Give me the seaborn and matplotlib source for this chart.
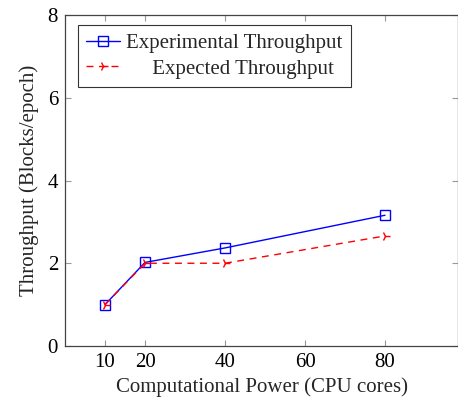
import matplotlib
matplotlib.use("Agg")
import matplotlib.pyplot as plt
import seaborn as sns
import pandas as pd

cores = [10, 20, 40, 80]
experimental = [1.0, 2.02, 2.37, 3.16]
expected = [1.0, 2.0, 2.0, 2.66]
xticks = [10, 20, 40, 60, 80]
yticks = [0, 2, 4, 6, 8]

sns.set_theme(style="ticks")
plt.rcParams['font.family'] = ['Liberation Serif', 'DejaVu Serif']

fig = plt.figure(figsize=(4.58, 4.01), dpi=100)
ax = fig.add_axes([65/458, 55/401, 1 - 65/458, (346-15)/401])

df1 = pd.DataFrame({"x": cores, "y": experimental})
df2 = pd.DataFrame({"x": cores, "y": expected})

sns.lineplot(data=df1, x="x", y="y", ax=ax, color="#0000ff", lw=1.0,
             marker="s", markersize=7, markerfacecolor="none",
             markeredgecolor="#0000ff", markeredgewidth=1.0,
             label="Experimental Throughput")
sns.lineplot(data=df2, x="x", y="y", ax=ax, color="#ff0000", lw=1.0,
             linestyle=(0, (5, 4)), marker="4", markersize=7,
             markeredgecolor="#ff0000", markerfacecolor="#ff0000",
             markeredgewidth=1.0, label="     Expected Throughput")

ax.set_xlim(0, 98.25)
ax.set_ylim(0, 8)
ax.set_xticks(xticks)
ax.set_yticks(yticks)
ax.tick_params(direction="in", top=True, right=True, length=4, width=0.8,
               colors="#999999", labelcolor="black", labelsize=15, pad=5)
for s in ax.spines.values():
    s.set_color("#444444")
    s.set_linewidth(0.9)

ax.set_xlabel("Computational Power (CPU cores)", fontsize=15, labelpad=4)
ax.set_ylabel("Throughput (Blocks/epoch)", fontsize=15, labelpad=6)

leg = ax.legend(loc="upper left", bbox_to_anchor=(0.033, 0.97), fontsize=15,
                frameon=True, fancybox=False, edgecolor="black",
                handlelength=1.6, handletextpad=0.3, borderpad=0.4,
                labelspacing=0.3, borderaxespad=0)
leg.get_frame().set_linewidth(0.8)

fig.savefig("out.png", dpi=100)
